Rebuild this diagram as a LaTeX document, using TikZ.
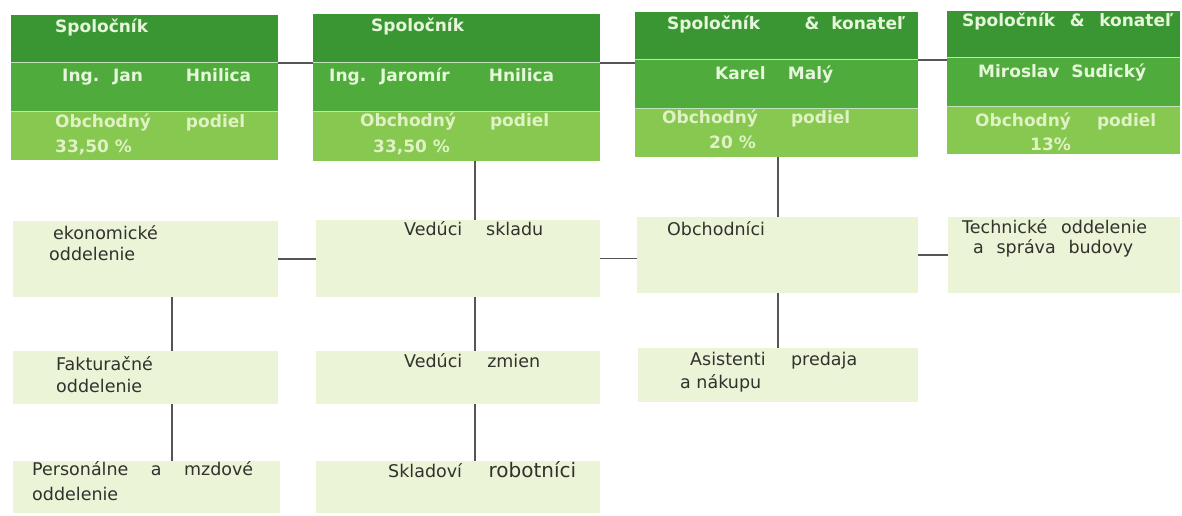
\documentclass[tikz,border=0pt]{standalone}
\usepackage{fontspec}
\setmainfont{DejaVu Sans}
\definecolor{bandone}{RGB}{57,150,50}
\definecolor{bandtwo}{RGB}{78,171,60}
\definecolor{bandthree}{RGB}{134,200,80}
\definecolor{boxfill}{RGB}{236,244,215}
\definecolor{toptext}{RGB}{230,246,218}
\definecolor{sharetext}{RGB}{224,242,196}
\definecolor{lowtext}{RGB}{48,50,45}
\definecolor{linegray}{RGB}{85,85,85}
\def\wline#1#2{\makebox[#1pt][l]{#2}}

\begin{document}
\begin{tikzpicture}[x=1pt, y=-1pt,
	band/.style={draw=none, inner sep=0, outer sep=0},
	lowbox/.style={draw=none, fill=boxfill, inner sep=0, outer sep=0},
	toptxt/.style={anchor=base west, inner sep=0, text=toptext, font=\bfseries\fontsize{17}{20}\selectfont},
	sharetxt/.style={toptxt, text=sharetext},
	lowtxt/.style={anchor=base west, inner sep=0, text=lowtext, font=\fontsize{17.5}{21}\selectfont},
	conn/.style={draw=linegray, line width=1.5pt},
	sep/.style={draw=white!65!bandtwo, line width=1pt}]
	%%%%% START %%%%%
	
	\useasboundingbox[fill=white] (0, 0) rectangle (1182, 516);
	
	% spolocnici
	\node[band, fill=bandone, minimum width=267, minimum height=48] (s1) at (144.5, 39) {};
	\node[band, fill=bandtwo, minimum width=267, minimum height=49] (n1) at (144.5, 87.5) {};
	\node[band, fill=bandthree, minimum width=267, minimum height=48] (p1) at (144.5, 136) {};
	
	\node[band, fill=bandone, minimum width=287, minimum height=49] (s2) at (456.5, 38.5) {};
	\node[band, fill=bandtwo, minimum width=287, minimum height=49] (n2) at (456.5, 87.5) {};
	\node[band, fill=bandthree, minimum width=287, minimum height=49] (p2) at (456.5, 136.5) {};
	
	\node[band, fill=bandone, minimum width=283, minimum height=48] (s3) at (776.5, 36) {};
	\node[band, fill=bandtwo, minimum width=283, minimum height=49] (n3) at (776.5, 84.5) {};
	\node[band, fill=bandthree, minimum width=283, minimum height=48] (p3) at (776.5, 133) {};
	
	\node[band, fill=bandone, minimum width=233, minimum height=47] (s4) at (1063.5, 34.5) {};
	\node[band, fill=bandtwo, minimum width=233, minimum height=49] (n4) at (1063.5, 82.5) {};
	\node[band, fill=bandthree, minimum width=233, minimum height=47] (p4) at (1063.5, 130.5) {};
	
	\draw[sep] (s1.south west) -- (s1.south east);
	\draw[sep] (n1.south west) -- (n1.south east);
	\draw[sep] (s2.south west) -- (s2.south east);
	\draw[sep] (n2.south west) -- (n2.south east);
	\draw[sep] (s3.south west) -- (s3.south east);
	\draw[sep] (n3.south west) -- (n3.south east);
	\draw[sep] (s4.south west) -- (s4.south east);
	\draw[sep] (n4.south west) -- (n4.south east);
	
	\node[toptxt] (t1a) at (55, 33) {Spoločník};
	\node[toptxt] (t1b) at (62, 82) {\wline{189}{Ing.~ Jan\hfill Hnilica}};
	\node[sharetxt] (t1c) at (55, 128) {\wline{190}{Obchodný\hfill podiel}};
	\node[sharetxt] (t1d) at (55, 152) {33,50 \%};
	
	\node[toptxt] (t2a) at (371, 32) {Spoločník};
	\node[toptxt] (t2b) at (329, 82) {\wline{225}{Ing.~ Jaromír\hfill Hnilica}};
	\node[sharetxt] (t2c) at (360, 127) {\wline{189}{Obchodný\hfill podiel}};
	\node[sharetxt] (t2d) at (373, 152) {33,50 \%};
	
	\node[toptxt] (t3a) at (667, 30) {\wline{238}{Spoločník\hfill \&~ konateľ}};
	\node[toptxt] (t3b) at (715, 80) {\wline{118}{Karel\hfill Malý}};
	\node[sharetxt] (t3c) at (662, 124) {\wline{188}{Obchodný\hfill podiel}};
	\node[sharetxt] (t3d) at (709, 148) {20 \%};
	
	\node[toptxt] (t4a) at (962, 27) {\wline{211}{Spoločník\hfill \&\hfill konateľ}};
	\node[toptxt] (t4b) at (978, 78) {Miroslav~ Sudický};
	\node[sharetxt] (t4c) at (975, 127) {\wline{181}{Obchodný\hfill podiel}};
	\node[sharetxt] (t4d) at (1030, 150) {13\%};
	
	% oddelenia
	\node[lowbox, minimum width=265, minimum height=76] (eko) at (145.5, 259) {};
	\node[lowbox, minimum width=284, minimum height=77] (ved) at (458, 258.5) {};
	\node[lowbox, minimum width=281, minimum height=76] (obch) at (777.5, 255) {};
	\node[lowbox, minimum width=232, minimum height=76] (tech) at (1064, 255) {};
	
	\node[lowbox, minimum width=265, minimum height=53] (fak) at (145.5, 377.5) {};
	\node[lowbox, minimum width=284, minimum height=53] (zmien) at (458, 377.5) {};
	\node[lowbox, minimum width=280, minimum height=54] (asist) at (778, 375) {};
	
	\node[lowbox, minimum width=267, minimum height=52] (pers) at (146.5, 487) {};
	\node[lowbox, minimum width=284, minimum height=52] (sklad) at (458, 487) {};
	
	\node[lowtxt] (l1a) at (53, 239) {ekonomické};
	\node[lowtxt] (l1b) at (49, 260) {oddelenie};
	\node[lowtxt] (l2a) at (404, 235) {\wline{139}{Vedúci\hfill skladu}};
	\node[lowtxt] (l3a) at (667, 235) {Obchodníci};
	\node[lowtxt] (l4a) at (962, 233) {\wline{185}{Technické\hfill oddelenie}};
	\node[lowtxt] (l4b) at (973, 253) {\wline{160}{a\hfill správa\hfill budovy}};
	
	\node[lowtxt] (l5a) at (56, 370) {Fakturačné};
	\node[lowtxt] (l5b) at (56, 392) {oddelenie};
	\node[lowtxt] (l6a) at (404, 367) {\wline{136}{Vedúci\hfill zmien}};
	\node[lowtxt] (l7a) at (690, 365) {\wline{167}{Asistenti\hfill predaja}};
	\node[lowtxt] (l7b) at (680, 388) {a nákupu};
	
	\node[lowtxt] (l8a) at (32, 475) {\wline{221}{Personálne\hfill a\hfill mzdové}};
	\node[lowtxt] (l8b) at (32, 500) {oddelenie};
	\node[lowtxt] (l9a) at (388, 477) {\wline{188}{Skladoví\hfill {\fontsize{20}{24}\selectfont robotníci}}};
	
	% spojnice
	\coordinate (c1) at (172, 0);
	\coordinate (c2) at (475, 0);
	\coordinate (c3) at (778, 0);
	
	\draw[conn] (s1.south east) -- (s1.south east -| s2.west);
	\draw[conn] (s2.south east) -- (s2.south east -| s3.west);
	\draw[conn] (s3.south east) -- (s3.south east -| s4.west);
	
	\draw[conn] (p2.south -| c2) -- (ved.north -| c2);
	\draw[conn] (p3.south -| c3) -- (obch.north -| c3);
	
	\draw[conn] (eko.east) -- (eko.east -| ved.west);
	\draw[conn] (ved.east) -- (ved.east -| obch.west);
	\draw[conn] (obch.east) -- (obch.east -| tech.west);
	
	\draw[conn] (eko.south -| c1) -- (fak.north -| c1);
	\draw[conn] (fak.south -| c1) -- (pers.north -| c1);
	\draw[conn] (ved.south -| c2) -- (zmien.north -| c2);
	\draw[conn] (zmien.south -| c2) -- (sklad.north -| c2);
	\draw[conn] (obch.south -| c3) -- (asist.north -| c3);
	
	%%%%% END %%%%%
\end{tikzpicture}
\end{document}
